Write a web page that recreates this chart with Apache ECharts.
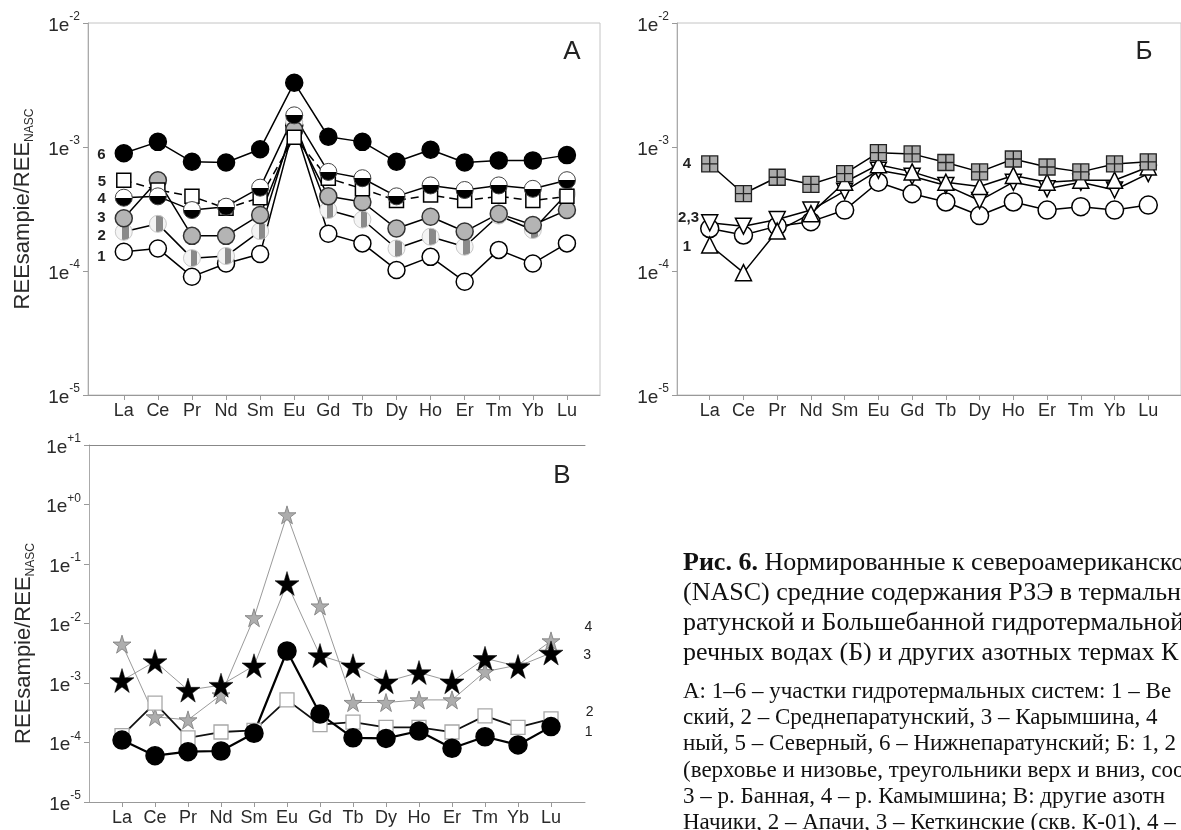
<!DOCTYPE html>
<html lang="ru">
<head>
<meta charset="UTF-8">
<title>РЗЭ / NASC</title>
<style>
  html, body { margin: 0; padding: 0; background: #fff; }
  #chart { width: 1181px; height: 830px; }
</style>
</head>
<body>
<div id="chart"></div>
<script src="https://cdn.jsdelivr.net/npm/echarts@6/dist/echarts.min.js"></script>
<script>
// REE order on x axis
const elements = ['La', 'Ce', 'Pr', 'Nd', 'Sm', 'Eu', 'Gd', 'Tb', 'Dy', 'Ho', 'Er', 'Tm', 'Yb', 'Lu'];

// panel A: hydrothermal system sites 1..6
const a1 = [1.43e-4, 1.52e-4, 9.0e-5, 1.15e-4, 1.37e-4, 1.5e-3, 2.0e-4, 1.67e-4, 1.02e-4, 1.3e-4, 8.2e-5, 1.48e-4, 1.15e-4, 1.67e-4];
const a2 = [2.07e-4, 2.4e-4, 1.27e-4, 1.32e-4, 2.1e-4, 1.6e-3, 3.1e-4, 2.6e-4, 1.52e-4, 1.89e-4, 1.57e-4, 2.8e-4, 2.14e-4, 4.2e-4];
const a3 = [2.66e-4, 5.4e-4, 1.92e-4, 1.92e-4, 2.83e-4, 1.37e-3, 4.0e-4, 3.6e-4, 2.2e-4, 2.74e-4, 2.08e-4, 2.9e-4, 2.35e-4, 3.1e-4];
const a4 = [3.9e-4, 4.0e-4, 3.1e-4, 3.3e-4, 4.7e-4, 1.8e-3, 6.3e-4, 5.6e-4, 4.0e-4, 4.9e-4, 4.5e-4, 4.9e-4, 4.6e-4, 5.4e-4];
const a5 = [5.4e-4, 4.5e-4, 4.0e-4, 3.2e-4, 3.9e-4, 1.2e-3, 5.6e-4, 4.6e-4, 3.7e-4, 4.1e-4, 3.7e-4, 4.0e-4, 3.7e-4, 4.0e-4];
const a6 = [8.9e-4, 1.10e-3, 7.6e-4, 7.5e-4, 9.6e-4, 3.3e-3, 1.21e-3, 1.10e-3, 7.6e-4, 9.5e-4, 7.5e-4, 7.8e-4, 7.8e-4, 8.6e-4];

// panel Б: river waters 1..4
const b1 = [1.62e-4, 9.7e-5, 2.1e-4, 2.9e-4, 5.2e-4, 7.2e-4, 6.3e-4, 5.2e-4, 4.8e-4, 5.9e-4, 5.2e-4, 5.4e-4, 5.4e-4, 6.9e-4];
const b2 = [2.45e-4, 2.3e-4, 2.6e-4, 3.1e-4, 4.4e-4, 6.5e-4, 5.8e-4, 4.9e-4, 3.7e-4, 5.2e-4, 4.6e-4, 5.2e-4, 4.5e-4, 6.1e-4];
const b3 = [2.2e-4, 1.95e-4, 2.3e-4, 2.5e-4, 3.1e-4, 5.2e-4, 4.2e-4, 3.6e-4, 2.8e-4, 3.6e-4, 3.1e-4, 3.3e-4, 3.1e-4, 3.4e-4];
const b4 = [7.3e-4, 4.2e-4, 5.7e-4, 5.0e-4, 6.1e-4, 9.0e-4, 8.8e-4, 7.5e-4, 6.3e-4, 8.0e-4, 6.9e-4, 6.3e-4, 7.3e-4, 7.6e-4];

// panel В: other nitrogen thermal waters 1..4
const c1 = [1.1e-4, 6.0e-5, 7.0e-5, 7.2e-5, 1.43e-4, 3.45e-3, 3.0e-4, 1.2e-4, 1.17e-4, 1.56e-4, 8.0e-5, 1.25e-4, 9.1e-5, 1.85e-4];
const c2 = [1.3e-4, 4.6e-4, 1.2e-4, 1.5e-4, 1.6e-4, 5.2e-4, 2.0e-4, 2.2e-4, 1.8e-4, 1.8e-4, 1.5e-4, 2.8e-4, 1.8e-4, 2.5e-4];
const c3 = [1.1e-3, 2.3e-3, 7.6e-4, 9.2e-4, 1.95e-3, 4.7e-2, 2.9e-3, 1.95e-3, 1.05e-3, 1.5e-3, 1.05e-3, 2.6e-3, 1.9e-3, 3.2e-3];
const c4 = [4.5e-3, 2.7e-4, 2.4e-4, 6.3e-4, 1.25e-2, 0.67, 1.97e-2, 4.7e-4, 4.7e-4, 5.2e-4, 5.2e-4, 1.55e-3, 2.0e-3, 5.1e-3];

const captionBig = [
  '{b|Рис. 6.} Нормированные к североамериканско',
  '(NASC) средние содержания РЗЭ в термальн',
  'ратунской и Большебанной гидротермальной',
  'речных водах (Б) и других азотных термах К'
];
const captionSmall = [
  'А: 1–6 – участки гидротермальных систем: 1 – Ве',
  'ский, 2 – Среднепаратунский, 3 – Карымшина, 4',
  'ный, 5 – Северный, 6 – Нижнепаратунский; Б: 1, 2',
  '(верховье и низовье, треугольники верх и вниз, соо',
  '3 – р. Банная, 4 – р. Камымшина; В: другие азотн',
  'Начики, 2 – Апачи, 3 – Кеткинские (скв. К-01), 4 – т'
];

const SANS = 'Liberation Sans, Arial, sans-serif';
const SERIF = 'Liberation Serif, Times New Roman, serif';
const STAR = 'path://M50,0 L61,35 L98,35 L68,57 L79,91 L50,70 L21,91 L32,57 L2,35 L39,35 Z';
const XSQUARE = 'path://M0,0 L20,0 L20,20 L0,20 Z M10,0 L10,20 M0,10 L20,10';
const tickIdx = elements.map((e, i) => i);

function xAx(g, min, max) {
  return {
    type: 'value', gridIndex: g, min: min, max: max,
    axisLine: { show: true, onZero: false, lineStyle: { color: '#999' } },
    axisTick: { show: true, customValues: tickIdx, length: 5, lineStyle: { color: '#999' } },
    axisLabel: { customValues: tickIdx, formatter: v => elements[v], fontSize: 18, color: '#2a2a2a', fontFamily: SANS, margin: 7 },
    splitLine: { show: false }
  };
}

function yAx(g, min, max, title, pad) {
  return {
    type: 'log', logBase: 10, gridIndex: g, min: min, max: max,
    axisLine: { show: true, onZero: false, lineStyle: { color: '#aaa' } },
    axisTick: { show: true, length: 5, lineStyle: { color: '#999' } },
    minorTick: { show: false },
    splitLine: { show: false },
    axisLabel: {
      margin: 8,
      formatter: v => {
        const e = Math.round(Math.log10(v));
        return '{m|1e}{s|' + (e >= 0 ? '+' + e : e) + '}';
      },
      rich: {
        m: { fontSize: 19, fontFamily: SANS, color: '#2a2a2a', lineHeight: 24, verticalAlign: 'bottom' },
        s: { fontSize: 12, fontFamily: SANS, color: '#2a2a2a', lineHeight: 14, verticalAlign: 'top' }
      }
    },
    name: title ? 'REEsampie/REE{n|NASC}' : '',
    nameLocation: 'middle', nameRotate: 90, nameGap: 52,
    nameTextStyle: {
      fontSize: 22, fontFamily: SANS, color: '#2a2a2a', lineHeight: 26, padding: pad,
      rich: { n: { fontSize: 12, fontFamily: SANS, color: '#2a2a2a', lineHeight: 12, verticalAlign: 'bottom' } }
    }
  };
}

function numLabel(txt, pos, dist, off, bold) {
  return {
    show: true, formatter: txt, position: pos, distance: dist, offset: off,
    fontSize: bold ? 15 : 14, fontWeight: bold ? 'bold' : 'normal', color: '#222', fontFamily: SANS
  };
}

function ser(g, vals, o) {
  const data = vals.map((v, i) => [i, v]);
  if (o.lab) {
    const k = o.lab.idx;
    data[k] = { value: data[k], label: o.lab.label };
  }
  return {
    type: 'line', xAxisIndex: g, yAxisIndex: g, data: data, silent: true,
    symbol: o.symbol || 'circle', symbolSize: o.size || 17, symbolRotate: o.rotate || 0,
    lineStyle: Object.assign({ color: '#000', width: 1.5 }, o.line || {}),
    itemStyle: Object.assign({ color: '#fff', borderColor: '#000', borderWidth: 1.5 }, o.item || {}),
    label: { show: false },
    emphasis: { disabled: true },
    z: o.z || 2
  };
}

function halfV(c1, c2) {
  return { type: 'linear', x: 0, y: 0, x2: 0, y2: 1, colorStops: [
    { offset: 0, color: c1 }, { offset: 0.5, color: c1 }, { offset: 0.5, color: c2 }, { offset: 1, color: c2 }] };
}
function halfH() {
  return { type: 'linear', x: 0, y: 0, x2: 1, y2: 0, colorStops: [
    { offset: 0, color: '#f4f4f4' }, { offset: 0.42, color: '#f4f4f4' }, { offset: 0.42, color: '#8a8a8a' },
    { offset: 0.78, color: '#8a8a8a' }, { offset: 0.78, color: '#f4f4f4' }, { offset: 1, color: '#f4f4f4' }] };
}

const chart = echarts.init(document.getElementById('chart'), null, { renderer: 'canvas' });

const option = {
  animation: false,
  backgroundColor: '#fff',
  grid: [
    { left: 88, top: 23, width: 512, height: 372, show: true, borderColor: '#c4c4c4', borderWidth: 1 },
    { left: 677, top: 23, width: 516, height: 372, show: true, borderColor: '#c4c4c4', borderWidth: 1 },
    { left: 89, top: 445, width: 496, height: 357 }
  ],
  xAxis: [
    xAx(0, -1.05, 13.97),
    xAx(1, -0.97, 13.97),
    xAx(2, -1, 14.03),
    { type: 'value', gridIndex: 2, position: 'top', min: -1, max: 14.03,
      axisLine: { show: true, onZero: false, lineStyle: { color: '#888' } },
      axisTick: { show: false }, axisLabel: { show: false }, splitLine: { show: false } }
  ],
  yAxis: [
    yAx(0, 1e-5, 1e-2, true, [0, 0, 0, 0]),
    yAx(1, 1e-5, 1e-2, false, [0, 0, 0, 0]),
    yAx(2, 1e-5, 1e1, true, [0, 40, 0, 0])
  ],
  series: [
    // A
    ser(0, a1, { size: 17, lab: { idx: 0, label: numLabel('1', 'left', 9, [0, 5], true) } }),
    ser(0, a2, { size: 17, item: { color: halfH(), borderColor: '#c8c8c8', borderWidth: 1 },
      lab: { idx: 0, label: numLabel('2', 'left', 9, [0, 4], true) } }),
    ser(0, a3, { size: 17, item: { color: '#b4b4b4', borderColor: '#333' },
      lab: { idx: 0, label: numLabel('3', 'left', 9, [0, 0], true) } }),
    ser(0, a5, { symbol: 'rect', size: 14, line: { type: [8, 5] },
      lab: { idx: 0, label: numLabel('5', 'left', 10, [0, 2], true) } }),
    ser(0, a4, { size: 17, item: { color: halfV('#fff', '#000'), borderColor: '#444', borderWidth: 1 },
      lab: { idx: 0, label: numLabel('4', 'left', 9, [0, 1], true) } }),
    ser(0, a6, { size: 17, item: { color: '#000' },
      lab: { idx: 0, label: numLabel('6', 'left', 9, [0, 2], true) } }),
    // Б
    ser(1, b3, { size: 18 }),
    ser(1, b2, { symbol: 'triangle', rotate: 180, size: 16,
      lab: { idx: 0, label: numLabel('2,3', 'left', 2, [0, -5], true) } }),
    ser(1, b1, { symbol: 'triangle', size: 16,
      lab: { idx: 0, label: numLabel('1', 'left', 10, [0, 2], true) } }),
    ser(1, b4, { symbol: XSQUARE, size: 16, item: { color: '#ababab', borderColor: '#222', borderWidth: 1.3 },
      lab: { idx: 0, label: numLabel('4', 'left', 10, [0, 0], true) } }),
    // В
    ser(2, c4, { symbol: STAR, size: 18, line: { color: '#9a9a9a', width: 1 },
      item: { color: '#adadad', borderColor: '#7a7a7a', borderWidth: 0.8 },
      lab: { idx: 13, label: numLabel('4', 'right', 24, [0, -14], false) } }),
    ser(2, c3, { symbol: STAR, size: 24, line: { color: '#9a9a9a', width: 1 },
      item: { color: '#000', borderColor: '#000', borderWidth: 0.5 },
      lab: { idx: 13, label: numLabel('3', 'right', 20, [0, 2], false) } }),
    ser(2, c2, { symbol: 'rect', size: 14, line: { color: '#111', width: 1.8 },
      item: { color: '#fff', borderColor: '#a8a8a8', borderWidth: 1.3 },
      lab: { idx: 13, label: numLabel('2', 'right', 27, [0, -7], false) } }),
    ser(2, c1, { size: 18, line: { color: '#000', width: 2.2 },
      item: { color: '#000' },
      lab: { idx: 13, label: numLabel('1', 'right', 24, [0, 6], false) } })
  ],
  graphic: [
    { type: 'text', x: 572, y: 52, style: { text: 'А', fontSize: 26, fontFamily: SANS, fill: '#222', align: 'center', verticalAlign: 'middle' } },
    { type: 'text', x: 1144, y: 52, style: { text: 'Б', fontSize: 26, fontFamily: SANS, fill: '#222', align: 'center', verticalAlign: 'middle' } },
    { type: 'text', x: 562, y: 476, style: { text: 'В', fontSize: 26, fontFamily: SANS, fill: '#222', align: 'center', verticalAlign: 'middle' } }
  ]
    .concat(captionBig.map((t, i) => ({
      type: 'text', x: 683, y: 563 + i * 30,
      style: { text: t, fontSize: 26, fontFamily: SERIF, fill: '#111', verticalAlign: 'middle',
        rich: { b: { fontSize: 26, fontFamily: SERIF, fontWeight: 'bold', fill: '#111' } } }
    })))
    .concat(captionSmall.map((t, i) => ({
      type: 'text', x: 683, y: 692 + i * 26.2,
      style: { text: t, fontSize: 23, fontFamily: SERIF, fill: '#111', verticalAlign: 'middle' }
    })))
};

chart.setOption(option);
</script>
</body>
</html>
